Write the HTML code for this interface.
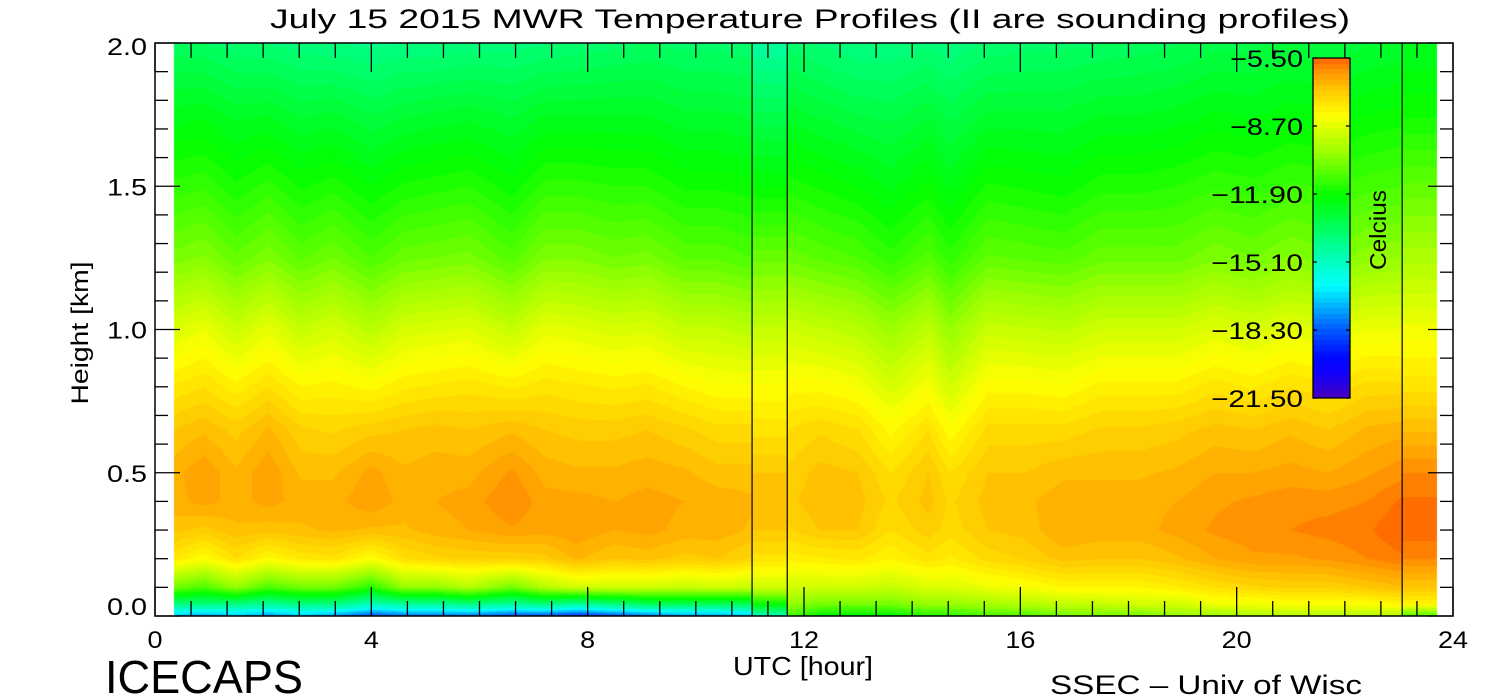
<!DOCTYPE html>
<html><head><meta charset="utf-8">
<style>
html,body{margin:0;padding:0;background:#fff;}
body{width:1500px;height:700px;position:relative;overflow:hidden;font-family:"Liberation Sans",sans-serif;color:#000;}
canvas{position:absolute;left:0;top:0;}
</style></head>
<body>
<canvas id="cv" width="1500" height="700"></canvas>
<svg id="ov" width="1500" height="700" style="position:absolute;left:0;top:0" font-family="Liberation Sans, sans-serif">
<text x="810" y="28" text-anchor="middle" font-size="27" textLength="1080" lengthAdjust="spacingAndGlyphs">July 15 2015 MWR Temperature Profiles (II are sounding profiles)</text>
<text x="803" y="675" text-anchor="middle" font-size="26" textLength="140" lengthAdjust="spacingAndGlyphs">UTC [hour]</text>
<text x="0" y="0" transform="translate(88,333) rotate(-90)" text-anchor="middle" font-size="24" textLength="143" lengthAdjust="spacingAndGlyphs">Height [km]</text>
<text x="105" y="693" font-size="46" textLength="198" lengthAdjust="spacingAndGlyphs">ICECAPS</text>
<text x="1050" y="694" font-size="27" textLength="312" lengthAdjust="spacingAndGlyphs">SSEC &#8211; Univ of Wisc</text>
<text x="0" y="0" transform="translate(1386,230) rotate(-90)" text-anchor="middle" font-size="23" textLength="80" lengthAdjust="spacingAndGlyphs">Celcius</text>
</svg>
<script>
const heights=[0,0.04,0.1,0.2,0.3,0.4,0.5,0.65,0.8,1.0,1.25,1.5,1.75,2.0];
const timesLeft=[0.35,0.9,1.5,2.1,2.7,3.3,4.0,4.6,5.2,5.8,6.6,7.2,7.8,8.5,9.1,9.8,10.4,11.04];
const tempsLeft=[
[-17,-14,-10.5,-7.7,-6.9,-6.6,-6.6,-7.0,-7.7,-8.8,-10.4,-11.4,-12.4,-13.4],
[-17.5,-14,-11,-8.2,-7.1,-6.4,-6.3,-6.8,-7.5,-8.5,-10.2,-11.3,-12.3,-13.5],
[-17,-14,-10,-7.5,-6.8,-6.6,-6.7,-7.1,-7.9,-9.1,-10.7,-11.7,-12.6,-13.7],
[-17.5,-14.5,-11,-8.1,-6.9,-6.4,-6.3,-6.7,-7.5,-8.6,-10.3,-11.4,-12.5,-13.8],
[-17,-14,-10.5,-7.7,-6.8,-6.6,-6.8,-7.2,-8.0,-9.2,-10.8,-11.8,-12.8,-13.9],
[-17.5,-14,-10.5,-7.6,-6.7,-6.6,-6.8,-7.3,-7.9,-8.9,-10.5,-11.6,-12.7,-14.0],
[-18.5,-15,-11.5,-8.2,-6.8,-6.3,-6.4,-7.1,-8.1,-9.4,-11.0,-12.0,-13.0,-14.1],
[-18,-14.5,-10,-7.5,-6.8,-6.6,-6.7,-7.0,-7.8,-8.9,-10.6,-11.7,-12.8,-14.0],
[-18,-14.5,-10,-7.3,-6.6,-6.5,-6.6,-6.9,-7.7,-8.8,-10.5,-11.6,-12.7,-14.0],
[-18,-14,-9.5,-7.2,-6.5,-6.4,-6.6,-7.0,-7.6,-8.7,-10.4,-11.5,-12.6,-13.9],
[-18.5,-14.5,-10.5,-7.2,-6.3,-6.0,-6.2,-6.8,-7.8,-9.2,-10.9,-11.9,-12.8,-13.9],
[-18.5,-14,-9.5,-7.1,-6.4,-6.4,-6.6,-7.0,-7.6,-8.6,-10.3,-11.4,-12.5,-13.8],
[-19,-14.5,-9.0,-6.7,-6.3,-6.4,-6.7,-7.1,-7.7,-8.7,-10.3,-11.4,-12.5,-13.7],
[-18.5,-14,-9.0,-7.0,-6.5,-6.5,-6.7,-7.1,-7.8,-8.9,-10.5,-11.5,-12.5,-13.6],
[-18,-13.5,-9.0,-6.9,-6.4,-6.4,-6.6,-7.0,-7.7,-8.8,-10.4,-11.5,-12.5,-13.5],
[-17.5,-13.5,-9.2,-7.1,-6.6,-6.5,-6.7,-7.2,-8.0,-9.2,-10.8,-11.8,-12.7,-13.6],
[-17.5,-13.5,-9.0,-7.0,-6.6,-6.6,-6.9,-7.4,-8.2,-9.2,-10.8,-11.8,-12.7,-13.6],
[-17,-13.5,-9.2,-7.3,-6.8,-6.7,-6.9,-7.4,-8.2,-9.4,-11.0,-11.9,-12.8,-13.7]];
const timesRight=[11.69,12.3,13.0,13.6,14.3,14.7,15.4,16.1,16.8,17.5,18.2,18.9,19.6,20.3,21.0,21.7,22.4,23.06];
const tempsRight=[
[-11,-10,-9.0,-7.9,-7.3,-7.1,-7.2,-7.5,-8.1,-9.0,-10.6,-11.6,-12.6,-13.6],
[-12,-10.5,-9.0,-7.8,-7.0,-6.8,-6.9,-7.3,-8.1,-9.2,-10.8,-11.8,-12.8,-13.8],
[-12,-10.5,-9.0,-7.7,-7.0,-6.9,-7.0,-7.5,-8.3,-9.4,-11.0,-12.0,-13.0,-14.0],
[-12,-10.5,-9.2,-8.0,-7.5,-7.3,-7.5,-8.1,-8.9,-9.9,-11.4,-12.3,-13.1,-14.0],
[-11.5,-10,-8.8,-7.6,-7.1,-6.9,-7.0,-7.5,-8.3,-9.3,-10.9,-11.9,-12.8,-13.8],
[-11.5,-10,-8.8,-7.8,-7.4,-7.3,-7.5,-8.2,-9.0,-10.0,-11.4,-12.3,-13.1,-14.0],
[-11,-9.8,-8.5,-7.4,-7.0,-6.9,-7.0,-7.4,-8.1,-9.1,-10.7,-11.7,-12.7,-13.7],
[-11,-9.5,-8.3,-7.2,-6.9,-6.8,-7.0,-7.4,-8.1,-9.2,-10.8,-11.8,-12.7,-13.6],
[-10.5,-9.3,-8.0,-6.9,-6.5,-6.6,-6.8,-7.4,-8.2,-9.3,-10.9,-11.9,-12.7,-13.6],
[-10.5,-9.2,-8.0,-7.0,-6.6,-6.6,-6.8,-7.2,-7.9,-9.0,-10.6,-11.6,-12.5,-13.5],
[-10.5,-9,-8.0,-7.0,-6.6,-6.6,-6.8,-7.2,-7.9,-9.0,-10.6,-11.6,-12.5,-13.4],
[-10,-9,-7.8,-6.8,-6.4,-6.5,-6.7,-7.1,-7.9,-9.0,-10.6,-11.5,-12.4,-13.3],
[-10,-8.5,-7.5,-6.5,-6.2,-6.3,-6.5,-6.9,-7.6,-8.7,-10.3,-11.3,-12.2,-13.1],
[-9.5,-8.5,-7.3,-6.3,-6.1,-6.2,-6.5,-7.0,-7.8,-8.9,-10.5,-11.4,-12.3,-13.1],
[-9.5,-8.3,-7.2,-6.3,-6.0,-6.1,-6.4,-6.8,-7.5,-8.6,-10.2,-11.2,-12.1,-12.9],
[-9.5,-8.3,-7.2,-6.2,-5.9,-6.1,-6.5,-7.0,-7.7,-8.8,-10.4,-11.3,-12.2,-13.0],
[-9.5,-8.3,-7.0,-6.0,-5.8,-6.0,-6.3,-6.7,-7.4,-8.5,-10.1,-11.1,-12.0,-12.8],
[-9.5,-8,-6.8,-5.8,-5.5,-5.7,-6.1,-6.6,-7.4,-8.5,-10.0,-11.0,-11.9,-12.7]];
const soundingTimes=[[11.04,11.69],[23.06,23.7]];
const soundingTemps=[
[-15,-12,-9.0,-7.6,-7.0,-6.8,-7.0,-7.6,-8.2,-9.2,-10.6,-12.0,-13.2,-14.5],
[-11,-8.0,-7.0,-6.0,-5.6,-5.7,-6.0,-6.8,-7.6,-8.4,-9.6,-10.7,-11.8,-12.5]];
const xTickLabels=["0","4","8","12","16","20","24"];
const yTickLabels=["0.0","0.5","1.0","1.5","2.0"];
const cbarLabels=["-5.50","-8.70","-11.90","-15.10","-18.30","-21.50"];

const X0=155,X1=1453,Y0=616,Y1=43;
const xs=t=>X0+(X1-X0)*t/24;
const ys=h=>Y0-(Y0-Y1)*h/2;
const TMIN=-21.5,TMAX=-5.5;
const stops=[[-21.5,[72,0,190]],[-20.3,[16,0,255]],[-19.5,[0,10,255]],[-18,[0,110,255]],[-16.2,[0,255,255]],[-14.5,[0,255,160]],[-12,[0,255,0]],[-10,[150,255,0]],[-8.2,[255,255,0]],[-7.0,[255,200,0]],[-6.3,[255,160,0]],[-5.5,[255,100,0]]];
function cmap(T){
  T=Math.max(TMIN,Math.min(TMAX,T));
  for(let i=1;i<stops.length;i++){
    if(T<=stops[i][0]){const a=stops[i-1],b=stops[i];const f=(T-a[0])/(b[0]-a[0]);
      return a[1].map((c,k)=>Math.round(c+(b[1][k]-c)*f));}
  }
  return stops[stops.length-1][1];
}
function profAt(prof,h){
  for(let i=1;i<heights.length;i++){ if(h<=heights[i]){const f=(h-heights[i-1])/(heights[i]-heights[i-1]);return prof[i-1]+(prof[i]-prof[i-1])*f;} }
  return prof[prof.length-1];
}
const cv=document.getElementById('cv');const ctx=cv.getContext('2d');
const img=ctx.createImageData(1500,700);
function colTemp(t,h){
  for(let s=0;s<soundingTimes.length;s++){ if(t>=soundingTimes[s][0]&&t<=soundingTimes[s][1]) return profAt(soundingTemps[s],h); }
  let T=null;
  [[timesLeft,tempsLeft],[timesRight,tempsRight]].forEach(([tt,vv])=>{
    if(T!==null) return;
    if(t>=tt[0]&&t<=tt[tt.length-1]){
      for(let i=1;i<tt.length;i++){ if(t<=tt[i]){const f=(t-tt[i-1])/(tt[i]-tt[i-1]);T=profAt(vv[i-1],h)*(1-f)+profAt(vv[i],h)*f;break;} }
    }
  });
  return T;
}
const xa=Math.round(xs(0.35)), xb=Math.round(xs(23.7));
for(let x=xa;x<xb;x++){
  const t=(x+0.5-X0)/(X1-X0)*24;
  for(let y=Y1;y<Y0;y++){
    const h=(Y0-(y+0.5))/(Y0-Y1)*2;
    const T=colTemp(t,h); if(T===null) continue;
    const q=Math.floor(T/0.25)*0.25+0.125;
    const c=cmap(q);const p=(y*1500+x)*4;
    img.data[p]=c[0];img.data[p+1]=c[1];img.data[p+2]=c[2];img.data[p+3]=255;
  }
}
const CBX=1313,CBW=37,CBT=58,CBB=398;
for(let y=CBT;y<CBB;y++){
  const T=TMAX-(y-CBT)/(CBB-CBT)*(TMAX-TMIN);const c=cmap(Math.floor(T/0.25)*0.25+0.125);
  for(let x=CBX;x<CBX+CBW;x++){const p=(y*1500+x)*4;img.data[p]=c[0];img.data[p+1]=c[1];img.data[p+2]=c[2];img.data[p+3]=255;}
}
ctx.putImageData(img,0,0);

const NS='http://www.w3.org/2000/svg';const ov=document.getElementById('ov');
function ln(x1,y1,x2,y2,name,w){const l=document.createElementNS(NS,'line');
  l.setAttribute('x1',x1);l.setAttribute('y1',y1);l.setAttribute('x2',x2);l.setAttribute('y2',y2);
  l.setAttribute('stroke','#000');l.setAttribute('stroke-width',w||1.3);
  
  
  ov.appendChild(l);}
function tx(x,y,s,anchor,size,name,len){const e=document.createElementNS(NS,'text');
  e.setAttribute('x',x);e.setAttribute('y',y);e.setAttribute('text-anchor',anchor);e.setAttribute('font-size',size);
  if(len){e.setAttribute('textLength',len);e.setAttribute('lengthAdjust','spacingAndGlyphs');}
  e.textContent=s;
  
  
  ov.appendChild(e);}
const fr=document.createElementNS(NS,'rect');
fr.setAttribute('x',X0);fr.setAttribute('y',Y1);fr.setAttribute('width',X1-X0);fr.setAttribute('height',Y0-Y1);
fr.setAttribute('fill','none');fr.setAttribute('stroke','#000');fr.setAttribute('stroke-width',1.5);


ov.appendChild(fr);
[11.04,11.69,23.06].forEach(t=>ln(xs(t),Y1,xs(t),Y0,'sounding-marker-line',1.2));
for(let i=0;i<=36;i++){const t=i*24/36;const major=i%6===0;const L=major?29:15;
  ln(xs(t),Y0,xs(t),Y0-L,'x-tick');ln(xs(t),Y1,xs(t),Y1+L,'x-tick-top');}
xTickLabels.forEach((s,i)=>tx(xs(i*4),648,s,'middle',24,'x-tick-label',s.length*15));
for(let i=0;i<=20;i++){const h=i*0.1;const major=i%5===0;const L=major?25:13;
  ln(X0,ys(h),X0+L,ys(h),'y-tick');ln(X1,ys(h),X1-L,ys(h),'y-tick-right');}
yTickLabels.forEach((s,i)=>{let y=ys(i*0.5)+9;if(i===0)y=ys(0)-1;if(i===4)y=ys(2)+12;tx(147,y,s,'end',24,'y-tick-label',40);});
const cb=document.createElementNS(NS,'rect');
cb.setAttribute('x',CBX);cb.setAttribute('y',CBT);cb.setAttribute('width',CBW);cb.setAttribute('height',CBB-CBT);
cb.setAttribute('fill','none');cb.setAttribute('stroke','#000');cb.setAttribute('stroke-width',1.3);


ov.appendChild(cb);
cbarLabels.forEach((s,i)=>{const y=CBT+i*(CBB-CBT)/5;
  ln(CBX,y,CBX+4,y,'colorbar-tick');ln(CBX+CBW,y,CBX+CBW-4,y,'colorbar-tick');
  tx(1303,y+9,s.replace('-','\u2212'),'end',24,'colorbar-label',s.length===5?73:92);});
</script>
</body></html>
